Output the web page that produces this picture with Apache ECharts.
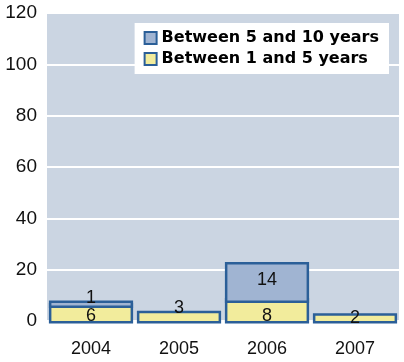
<!DOCTYPE html>
<html><head><meta charset="utf-8">
<script src="https://cdn.jsdelivr.net/npm/echarts@6/dist/echarts.min.js"></script>
<style>html,body{margin:0;padding:0;background:#fff}#c{width:404px;height:362px}</style>
</head><body><div id="c"></div>
<script>
var categories = ['2004', '2005', '2006', '2007'];
var seriesNames = ['Between 1 and 5 years', 'Between 5 and 10 years'];
var oneToFive = [6, 3, 8, 2];
var fiveToTen = [1, 0, 14, 0];
var yTicks = [0, 20, 40, 60, 80, 100, 120];

var chart = echarts.init(document.getElementById('c'));
var font = 'Liberation Sans, Arial, sans-serif';
var border = '#2B5F98';
var BW = 5;
function lab(v, off) {
  if (!v) return '-';
  return { value: v, label: { offset: [0, off || 0] } };
}
chart.setOption({
  animation: false,
  grid: { left: 47, right: 5, top: 13, bottom: 41, show: true, backgroundColor: '#CBD5E2', borderWidth: 0 },
  legend: {
    data: [seriesNames[1], seriesNames[0]],
    orient: 'vertical', right: 15, top: 23, left: 'auto',
    backgroundColor: '#fff', padding: [7, 10, 7, 9],
    icon: 'rect',
    itemWidth: 12, itemHeight: 12, itemGap: 5,
    itemStyle: { borderWidth: 2, borderColor: border },
    textStyle: { fontFamily: 'DejaVu Sans', fontWeight: 'bold', fontSize: 16, color: '#000' }
  },
  xAxis: {
    type: 'category', data: categories,
    axisLine: { show: false }, axisTick: { show: false },
    axisLabel: { fontFamily: font, fontSize: 18, color: '#111', margin: 19 }
  },
  yAxis: {
    type: 'value', min: yTicks[0], max: yTicks[yTicks.length - 1], interval: 20,
    axisLine: { show: false }, axisTick: { show: false },
    splitLine: { lineStyle: { color: '#fff', width: 2 } },
    axisLabel: { fontFamily: font, fontSize: 19, color: '#111', margin: 10 }
  },
  series: [
    {
      name: seriesNames[0], type: 'bar', stack: 's', barCategoryGap: '10%', clip: false,
      itemStyle: { color: '#F2EC9C', borderColor: border, borderWidth: BW },
      label: { show: true, position: 'inside', fontFamily: font, fontSize: 18, color: '#111' },
      data: [lab(oneToFive[0], 3), lab(oneToFive[1], -9), lab(oneToFive[2], 5), lab(oneToFive[3], 0)]
    },
    {
      name: seriesNames[1], type: 'bar', stack: 's', clip: false,
      itemStyle: { color: '#A0B4D2', borderColor: border, borderWidth: BW },
      label: { show: true, position: 'inside', fontFamily: font, fontSize: 18, color: '#111' },
      data: [lab(fiveToTen[0], -6), lab(fiveToTen[1]), lab(fiveToTen[2], -2), lab(fiveToTen[3])]
    }
  ]
});
// Excel-style outline: stroke centred on the bar's own edges, drawn before the fill
var model = chart.getModel();
[0, 1].forEach(function (si) {
  var data = model.getSeriesByIndex(si).getData();
  data.each(function (idx) {
    var el = data.getItemGraphicEl(idx);
    var layout = data.getItemLayout(idx);
    if (!el || !layout || !el.setShape) return;
    el.setShape({ x: layout.x, y: layout.y, width: layout.width, height: layout.height });
    el.style.lineWidth = BW;
    el.style.strokeFirst = true;
    el.dirty();
  });
});
chart.getZr().refreshImmediately();
</script></body></html>
